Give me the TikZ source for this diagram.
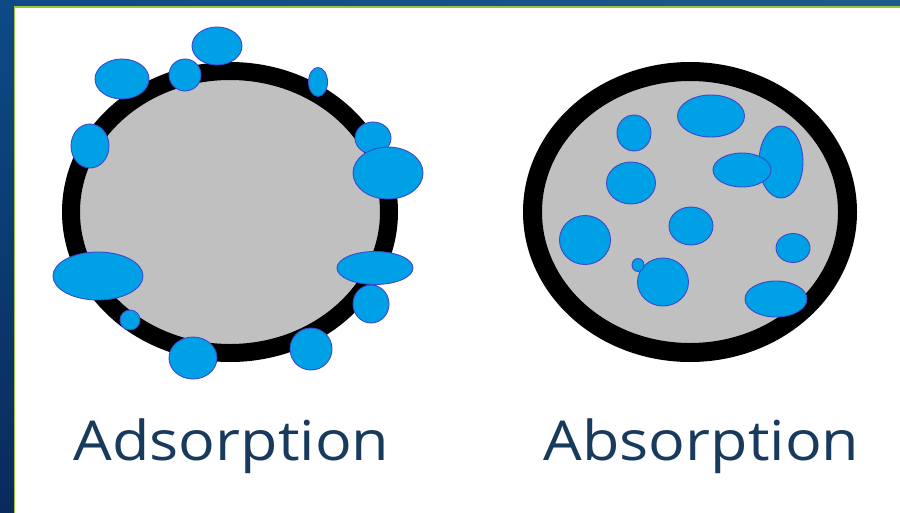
\documentclass[tikz,border=0pt]{standalone}
\usepackage{fontspec}
\usepackage{graphicx}
\setmainfont{Open Sans}
\usetikzlibrary{shadings}
\definecolor{deepblue}{HTML}{0D4A86}
\definecolor{deepblueB}{HTML}{0A2A5C}
\definecolor{topblue}{HTML}{1E5B8C}
\definecolor{lime}{HTML}{9CC43A}
\definecolor{grain}{HTML}{C0C0C0}
\definecolor{drop}{HTML}{00A0E6}
\definecolor{dropedge}{HTML}{3F48CC}
\definecolor{labelblue}{HTML}{183A5C}
\tikzset{
  blob/.style={fill=drop, draw=dropedge, line width=0.9pt},
  particle/.style={fill=grain, draw=black},
  caption/.style={text=labelblue, font=\fontsize{55}{60}\selectfont, anchor=base, inner sep=0pt}
}
\newcommand{\widecap}[1]{\scalebox{1.11}[1]{#1}}
\begin{document}
\begin{tikzpicture}[x=1pt,y=-1pt]
\useasboundingbox (0,0) rectangle (900,512);
% backdrop
\shade[top color=deepblue, bottom color=deepblueB] (0,0) rectangle (900,512);
\shade[left color=deepblue, right color=topblue] (0,0) rectangle (900,7);
% white panel with lime rim
\fill[white] (14.5,6.8) rectangle (905,520);
\draw[lime, line width=1.6pt] (14.5,525) -- (14.5,6.8) -- (905,6.8);

% ---- adsorption: drops stuck on the surface ----
\draw[particle, line width=18pt] (230,212) ellipse [x radius=159, y radius=141];
\draw[blob] (217,46) ellipse [x radius=25, y radius=19];
\draw[blob] (122,79) ellipse [x radius=27, y radius=20];
\draw[blob] (185,75) ellipse [x radius=16, y radius=16];
\draw[blob] (318,82) ellipse [x radius=9.5, y radius=14.5];
\draw[blob] (90,146) ellipse [x radius=19, y radius=22];
\draw[blob] (373,138) ellipse [x radius=18, y radius=16];
\draw[blob] (388,173) ellipse [x radius=35, y radius=26];
\draw[blob] (98,276) ellipse [x radius=45, y radius=24];
\draw[blob] (371,304) ellipse [x radius=18, y radius=19];
\draw[blob] (375,268) ellipse [x radius=38, y radius=16.5];
\draw[blob] (130,320) ellipse [x radius=10, y radius=10];
\draw[blob] (193,358) ellipse [x radius=24, y radius=21];
\draw[blob] (311,349) ellipse [x radius=21, y radius=21];

% ---- absorption: drops taken into the bulk ----
\draw[particle, line width=19pt] (690,212) ellipse [x radius=157.5, y radius=140.5];
\draw[blob] (711,116) ellipse [x radius=33.5, y radius=21];
\draw[blob] (634,133) ellipse [x radius=17, y radius=18];
\draw[blob] (781,162) ellipse [x radius=22, y radius=36];
\draw[blob] (742,170) ellipse [x radius=29, y radius=17];
\draw[blob] (631,183) ellipse [x radius=24.5, y radius=21];
\draw[blob] (691,226) ellipse [x radius=22, y radius=19];
\draw[blob] (585,240) ellipse [x radius=25.5, y radius=24.5];
\draw[blob] (793,248) ellipse [x radius=17, y radius=14.5];
\draw[blob] (663,282) ellipse [x radius=25.5, y radius=24];
\draw[blob] (638,265) ellipse [x radius=6, y radius=6.5];
\draw[blob] (776,299) ellipse [x radius=31, y radius=18];

% captions
\node[caption] (ads) at (231.5,460) {\widecap{Adsorption}};
\node[caption] (abs) at (701.5,460) {\widecap{Absorption}};
\end{tikzpicture}
\end{document}
